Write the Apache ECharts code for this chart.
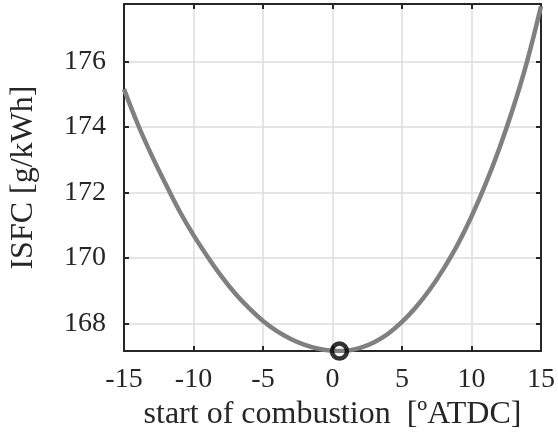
<!DOCTYPE html>
<html>
<head>
<meta charset="utf-8">
<script src="https://cdn.jsdelivr.net/npm/echarts@6/dist/echarts.min.js"></script>
<style>
  html, body { margin: 0; padding: 0; background: #fff; }
  #chart { width: 558px; height: 436px; }
</style>
</head>
<body>
<div id="chart"></div>
<script>
// Start of combustion sweep [deg ATDC] and indicated specific fuel consumption [g/kWh]
const socDeg = [-15, -14, -13, -12, -11, -10, -9, -8, -7, -6, -5, -4, -3, -2, -1, 0, 0.5,
                1, 2, 3, 4, 5, 6, 7, 8, 9, 10, 11, 12, 13, 14, 15];
const isfc = [175.15, 174.07, 173.12, 172.25, 171.42, 170.69, 170.04, 169.44, 168.91, 168.46,
              168.07, 167.76, 167.52, 167.34, 167.22, 167.16, 167.15,
              167.16, 167.25, 167.42, 167.68, 168.04, 168.49, 169.03, 169.67, 170.40,
              171.26, 172.24, 173.34, 174.58, 176.00, 177.68];
// Optimum point
const optimum = [[0.5, 167.15]];
// Axis ticks
const yTicks = [168, 170, 172, 174, 176];

const textColor = '#262626';
const serif = 'Liberation Serif';

const chart = echarts.init(document.getElementById('chart'), null, { renderer: 'canvas' });

const frameLine = { show: true, onZero: false, lineStyle: { color: textColor, width: 2 } };
const frameTick = { show: true, inside: true, length: 5, lineStyle: { color: textColor, width: 2 } };

chart.setOption({
  animation: false,
  backgroundColor: '#ffffff',
  grid: { left: 124, right: 13, top: 4, bottom: 84, containLabel: false },
  xAxis: [
    {
      type: 'value', min: -15, max: 15, interval: 5, position: 'bottom',
      name: 'start of combustion  [ºATDC]', nameLocation: 'middle', nameGap: 44,
      nameTextStyle: { fontFamily: serif, fontSize: 32, color: textColor },
      axisLine: frameLine,
      axisTick: frameTick,
      axisLabel: { fontFamily: serif, fontSize: 28, color: textColor, margin: 15 },
      splitLine: { show: true, lineStyle: { color: '#dcdcdc', width: 1.5 } }
    },
    {
      type: 'value', min: -15, max: 15, interval: 5, position: 'top',
      axisLine: frameLine, axisTick: frameTick,
      axisLabel: { show: false }, splitLine: { show: false }
    }
  ],
  yAxis: [
    {
      type: 'value', min: 167.15, max: 177.75, position: 'left',
      name: 'ISFC [g/kWh]', nameLocation: 'middle', nameGap: 84,
      nameTextStyle: { fontFamily: serif, fontSize: 32, color: textColor },
      axisLine: frameLine,
      axisTick: Object.assign({ customValues: yTicks }, frameTick),
      axisLabel: { fontFamily: serif, fontSize: 28, color: textColor, margin: 18,
                   customValues: yTicks },
      splitLine: { show: true, lineStyle: { color: '#dcdcdc', width: 1.5 } }
    },
    {
      type: 'value', min: 167.15, max: 177.75, position: 'right',
      axisLine: frameLine,
      axisTick: Object.assign({ customValues: yTicks }, frameTick),
      axisLabel: { show: false }, splitLine: { show: false }
    }
  ],
  series: [
    {
      type: 'line',
      data: socDeg.map((x, i) => [x, isfc[i]]),
      smooth: 0.4,
      showSymbol: false,
      lineStyle: { color: '#808080', width: 4.5 },
      z: 2
    },
    {
      type: 'scatter',
      data: optimum,
      symbol: 'circle',
      symbolSize: 15,
      itemStyle: { color: 'rgba(255,255,255,0)', borderColor: '#000000', borderWidth: 4.5 },
      clip: false,
      z: 5
    }
  ]
});
</script>
</body>
</html>
